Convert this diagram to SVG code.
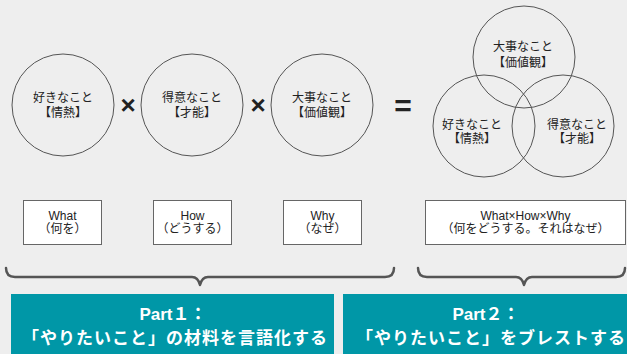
<svg xmlns="http://www.w3.org/2000/svg" width="627" height="354" viewBox="0 0 627 354">
<style>
.c{fill:none;stroke:#555;stroke-width:1}
.t{font-family:"Liberation Sans","Noto Sans CJK JP",sans-serif;font-size:12px;fill:#222;text-anchor:middle}
.b{fill:#fff;stroke:#666;stroke-width:1}
.bt{font-family:"Liberation Sans","Noto Sans CJK JP",sans-serif;font-size:12px;fill:#222;text-anchor:middle}
.op{font-family:"Liberation Sans","Noto Sans CJK JP",sans-serif;font-weight:bold;fill:#222;text-anchor:middle}
.br{fill:none;stroke:#555;stroke-width:2.5;stroke-linecap:round;stroke-linejoin:round}
.p{fill:#0097a7}
.pt{font-family:"Liberation Sans","Noto Sans CJK JP",sans-serif;font-weight:bold;font-size:17px;fill:#fff;text-anchor:middle}
</style>
<rect width="627" height="354" fill="#eeeeee"/>
<g id="like">
<circle class="c" cx="63" cy="105" r="51"/>
<text class="t" x="63" y="102">好きなこと</text>
<text class="t" x="63" y="117">【情熱】</text>
</g>
<g id="good">
<circle class="c" cx="192" cy="105" r="51"/>
<text class="t" x="192" y="102">得意なこと</text>
<text class="t" x="192" y="117">【才能】</text>
</g>
<g id="value">
<circle class="c" cx="322" cy="105" r="51"/>
<text class="t" x="322" y="102">大事なこと</text>
<text class="t" x="322" y="117">【価値観】</text>
</g>
<g id="ops">
<text class="op" x="128" y="114" font-size="26">×</text>
<text class="op" x="258" y="114" font-size="26">×</text>
<text class="op" x="403" y="116" font-size="30" font-weight="normal">=</text>
</g>
<g id="venn-value">
<circle class="c" cx="524" cy="57" r="51"/>
<text class="t" x="523" y="51">大事なこと</text>
<text class="t" x="523" y="67">【価値観】</text>
</g>
<g id="venn-like">
<circle class="c" cx="484" cy="126" r="51"/>
<text class="t" x="472" y="129">好きなこと</text>
<text class="t" x="472" y="143">【情熱】</text>
</g>
<g id="venn-good">
<circle class="c" cx="563" cy="126" r="51"/>
<text class="t" x="577" y="129">得意なこと</text>
<text class="t" x="577" y="143">【才能】</text>
</g>
<g id="box-what">
<rect class="b" x="23.5" y="200.5" width="78" height="44"/>
<text class="bt" x="62.5" y="219.5">What</text>
<text class="bt" x="62.5" y="233">（何を）</text>
</g>
<g id="box-how">
<rect class="b" x="153.5" y="200.5" width="78" height="44"/>
<text class="bt" x="192.5" y="219.5">How</text>
<text class="bt" x="192.5" y="233">（どうする）</text>
</g>
<g id="box-why">
<rect class="b" x="283.5" y="200.5" width="78" height="44"/>
<text class="bt" x="322.5" y="219.5">Why</text>
<text class="bt" x="322.5" y="233">（なぜ）</text>
</g>
<g id="box-all">
<rect class="b" x="425.5" y="200.5" width="200" height="44"/>
<text class="bt" x="525.5" y="219.5">What×How×Why</text>
<text class="bt" x="525.5" y="233">（何をどうする。それはなぜ）</text>
</g>
<g id="connectors">
<path class="br" d="M6,268 Q6,277 15,277 L192,277 Q198,277 200,285 Q202,277 208,277 L385,277 Q394,277 394,268"/>
<path class="br" d="M418,268 Q418,277 427,277 L516,277 Q522,277 524,285 Q526,277 532,277 L616,277 Q625,277 625,268"/>
</g>
<g id="part1">
<rect class="p" x="11" y="294" width="323" height="60"/>
<text class="pt" x="173" y="320">Part１：</text>
<text class="pt" x="175" y="344" letter-spacing="1">「やりたいこと」の材料を言語化する</text>
</g>
<g id="part2">
<rect class="p" x="343" y="294" width="284" height="60"/>
<text class="pt" x="486" y="320">Part２：</text>
<text class="pt" x="491" y="344" letter-spacing="1">「やりたいこと」をブレストする</text>
</g>
</svg>
